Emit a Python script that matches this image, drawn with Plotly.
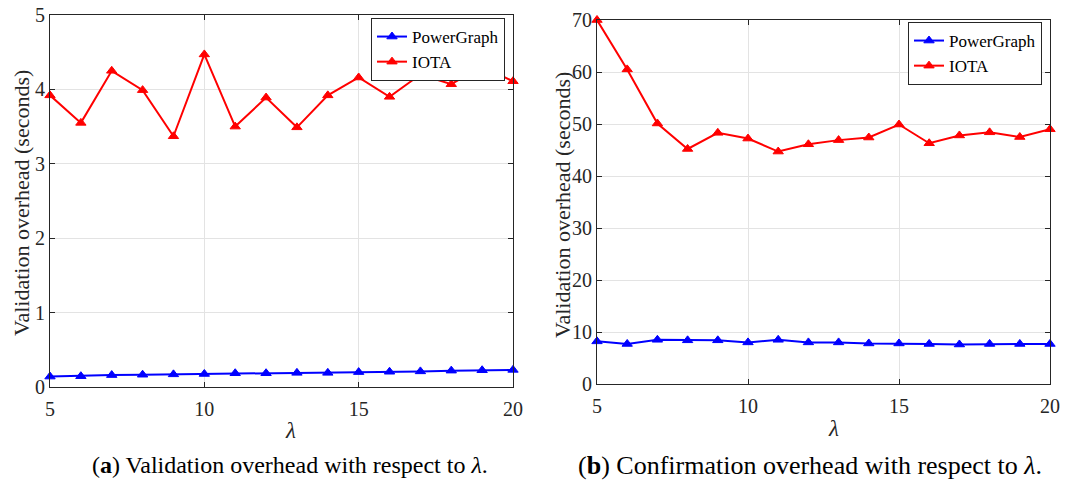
import plotly.graph_objects as go

lam = list(range(5, 21))

# (a) Validation overhead
val_powergraph = [0.14, 0.145, 0.16, 0.165, 0.17, 0.175, 0.185, 0.185, 0.19, 0.19, 0.20, 0.205, 0.21, 0.22, 0.225, 0.23]
val_iota = [3.92, 3.55, 4.25, 3.99, 3.37, 4.47, 3.50, 3.89, 3.49, 3.92, 4.16, 3.90, 4.20, 4.07, 4.31, 4.11]

# (b) Confirmation overhead
conf_powergraph = [8.2, 7.7, 8.5, 8.4, 8.4, 8.0, 8.5, 8.0, 8.0, 7.8, 7.8, 7.7, 7.6, 7.7, 7.7, 7.7]
conf_iota = [70.0, 60.5, 50.1, 45.2, 48.3, 47.2, 44.7, 46.1, 46.9, 47.4, 49.9, 46.3, 47.8, 48.4, 47.5, 49.0]

left_ticks = [0, 1, 2, 3, 4, 5]
right_ticks = [0, 10, 20, 30, 40, 50, 60, 70]
x_ticks = [5, 10, 15, 20]

W, H = 1081, 487
BLUE = "#0000ff"
RED = "#ff0000"
AX = "#262626"
FONT = "Liberation Serif"

fig = go.Figure()

def add(x, y, name, color, xa, ya, legend, show=True):
    fig.add_trace(go.Scatter(
        x=x, y=y, name=name, mode="lines+markers",
        line=dict(color=color, width=2),
        marker=dict(symbol="triangle-up", size=9, color=color,
                    line=dict(color=color, width=1)),
        xaxis=xa, yaxis=ya, legend=legend, showlegend=show, cliponaxis=False))

add(lam, val_powergraph, "PowerGraph", BLUE, "x", "y", "legend")
add(lam, val_iota, "IOTA", RED, "x", "y", "legend")
add(lam, conf_powergraph, "PowerGraph", BLUE, "x2", "y2", "legend2")
add(lam, conf_iota, "IOTA", RED, "x2", "y2", "legend2")

def px(v):
    return v / W

def py(v):
    return 1 - v / H

axis_common = dict(
    showline=True, linecolor=AX, linewidth=1, mirror="ticks",
    ticks="inside", ticklen=5, tickcolor=AX,
    showgrid=True, gridcolor="#e3e3e3", gridwidth=1,
    zeroline=False, automargin=False,
    tickfont=dict(family=FONT, size=20, color=AX),
)

def ann(text, x, y, size, color=AX, angle=0):
    return dict(text=text, x=px(x), y=py(y), xref="paper", yref="paper",
                xanchor="center", yanchor="middle", showarrow=False,
                textangle=angle, font=dict(family=FONT, size=size, color=color))

fig.update_layout(
    width=W, height=H,
    margin=dict(l=0, r=0, t=0, b=0, autoexpand=False),
    paper_bgcolor="white", plot_bgcolor="white",
    font=dict(family=FONT, color=AX),
    xaxis=dict(domain=[px(50), px(513)], range=[5, 20], tickvals=x_ticks,
               anchor="y", ticklabelstandoff=4, **axis_common),
    yaxis=dict(domain=[py(387), py(15)], range=[0, 5], tickvals=left_ticks,
               anchor="x", **axis_common),
    xaxis2=dict(domain=[px(597), px(1050)], range=[5, 20], tickvals=x_ticks,
                anchor="y2", ticklabelstandoff=4, **axis_common),
    yaxis2=dict(domain=[py(384), py(20)], range=[0, 70], tickvals=right_ticks,
                anchor="x2", **axis_common),
    legend=dict(x=px(505), y=py(18), xanchor="right", yanchor="top",
                bgcolor="white", bordercolor=AX, borderwidth=1,
                font=dict(family=FONT, size=17, color="black"),
                tracegroupgap=0, itemwidth=30),
    legend2=dict(x=px(1042), y=py(22), xanchor="right", yanchor="top",
                 bgcolor="white", bordercolor=AX, borderwidth=1,
                 font=dict(family=FONT, size=17, color="black"),
                 tracegroupgap=0, itemwidth=30),
    annotations=[
        ann("Validation overhead (seconds)", 21, 203, 22, angle=-90),
        ann("Validation overhead (seconds)", 563, 205, 22, angle=-90),
        ann("<i>λ</i>", 290, 430, 23),
        ann("<i>λ</i>", 833, 428, 23),
        ann("(<b>a</b>) Validation overhead with respect to <i>λ</i>.", 290, 465, 24, color="black"),
        ann("(<b>b</b>) Confirmation overhead with respect to <i>λ</i>.", 810, 465, 26, color="black"),
    ],
)

fig.write_html("out.html")
